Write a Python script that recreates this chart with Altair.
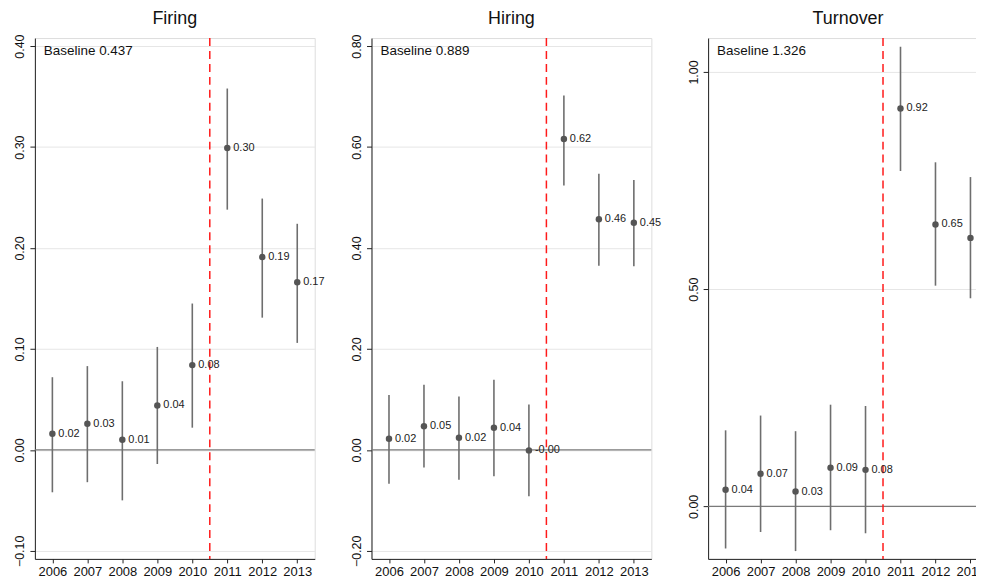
import altair as alt
import pandas as pd

years = [2006, 2007, 2008, 2009, 2010, 2011, 2012, 2013]

firing_coef = [0.016, 0.026, 0.010, 0.044, 0.084, 0.299, 0.191, 0.166]
firing_lo = [-0.042, -0.032, -0.050, -0.014, 0.022, 0.238, 0.131, 0.106]
firing_hi = [0.072, 0.083, 0.068, 0.102, 0.145, 0.358, 0.249, 0.224]

hiring_coef = [0.022, 0.047, 0.024, 0.044, -0.001, 0.616, 0.457, 0.450]
hiring_lo = [-0.067, -0.035, -0.059, -0.052, -0.092, 0.524, 0.365, 0.364]
hiring_hi = [0.109, 0.129, 0.106, 0.139, 0.090, 0.702, 0.547, 0.535]

turn_coef = [0.038, 0.075, 0.034, 0.089, 0.084, 0.916, 0.649, 0.618]
turn_lo = [-0.097, -0.059, -0.103, -0.055, -0.062, 0.772, 0.508, 0.479]
turn_hi = [0.175, 0.209, 0.173, 0.234, 0.231, 1.058, 0.792, 0.758]

titles = ["Firing", "Hiring", "Turnover"]
baselines = ["Baseline 0.437", "Baseline 0.889", "Baseline 1.326"]
y_domains = [[-0.108, 0.408], [-0.216, 0.816], [-0.121, 1.078]]
y_ticks = [[-0.1, 0.0, 0.1, 0.2, 0.3, 0.4],
           [-0.2, 0.0, 0.2, 0.4, 0.6, 0.8],
           [0.0, 0.5, 1.0]]
cutoff = 2010.5

FONT = "Liberation Sans"
W, H = 281, 523


def panel(title, coef, lo, hi, base, ydom, yt):
    df = pd.DataFrame({
        "year": years, "coef": coef, "lo": lo, "hi": hi,
        "label": [f"{v:.2f}" for v in coef],
    })
    xs = alt.Scale(domain=[2005.5, 2013.5], nice=False, zero=False)
    ys = alt.Scale(domain=ydom, nice=False, zero=False)
    xax = alt.Axis(values=years, format="d", title=None, grid=False,
                   labelFontSize=13, labelFont=FONT, labelColor="#111",
                   tickSize=4, tickColor="#222", domainColor="#222",
                   labelPadding=3, labelFlush=False)
    yax = alt.Axis(values=yt, format=".2f", title=None, grid=True,
                   gridColor="#e6e6e6", gridWidth=1,
                   labelAngle=270, labelAlign="center", labelBaseline="bottom",
                   labelFontSize=12.5, labelFont=FONT, labelColor="#111",
                   tickSize=5, tickColor="#222", domainColor="#222",
                   labelPadding=3, labelFlush=False)
    base_enc = alt.Chart(df)
    grid = base_enc.mark_point(opacity=0).encode(
        x=alt.X("year:Q", scale=xs, axis=xax),
        y=alt.Y("coef:Q", scale=ys, axis=yax),
    )
    zero = alt.Chart(pd.DataFrame({"z": [0.0]})).mark_rule(
        color="#7a7a7a", strokeWidth=1.3
    ).encode(y=alt.Y("z:Q", scale=ys))
    vline = alt.Chart(pd.DataFrame({"c": [cutoff]})).mark_rule(
        color="#ff1a1a", strokeWidth=1.5, strokeDash=[8, 5]
    ).encode(x=alt.X("c:Q", scale=xs))
    ci = base_enc.mark_rule(color="#6e6e6e", strokeWidth=1.6).encode(
        x=alt.X("year:Q", scale=xs),
        y=alt.Y("lo:Q", scale=ys),
        y2="hi:Q",
    )
    pts = base_enc.mark_circle(color="#555555", size=42, opacity=1).encode(
        x=alt.X("year:Q", scale=xs),
        y=alt.Y("coef:Q", scale=ys),
    )
    lbl = base_enc.mark_text(align="left", baseline="middle", dx=6,
                             fontSize=11, font=FONT, color="#222").encode(
        x=alt.X("year:Q", scale=xs),
        y=alt.Y("coef:Q", scale=ys),
        text="label:N",
    )
    btxt = alt.Chart(pd.DataFrame({"t": [base]})).mark_text(
        align="left", baseline="middle", fontSize=13.5, font=FONT, color="#111"
    ).encode(x=alt.value(9), y=alt.value(13), text="t:N")
    ttl = alt.Chart(pd.DataFrame({"t": [title]})).mark_text(
        align="center", baseline="middle", fontSize=18, font=FONT, color="#111"
    ).encode(x=alt.value(W / 2), y=alt.value(-19), text="t:N")
    return alt.layer(grid, zero, vline, ci, pts, lbl, btxt, ttl).properties(
        width=W, height=H,
    )


panels = [
    panel(titles[0], firing_coef, firing_lo, firing_hi, baselines[0], y_domains[0], y_ticks[0]),
    panel(titles[1], hiring_coef, hiring_lo, hiring_hi, baselines[1], y_domains[1], y_ticks[1]),
    panel(titles[2], turn_coef, turn_lo, turn_hi, baselines[2], y_domains[2], y_ticks[2]),
]

chart = alt.hconcat(*panels, spacing=24).properties(
    padding={"left": 5, "top": 0, "right": -23, "bottom": 0}
).configure_view(
    strokeWidth=0
).configure(background="white")

chart.save("out.html", embed_options={"renderer": "svg", "actions": False})
